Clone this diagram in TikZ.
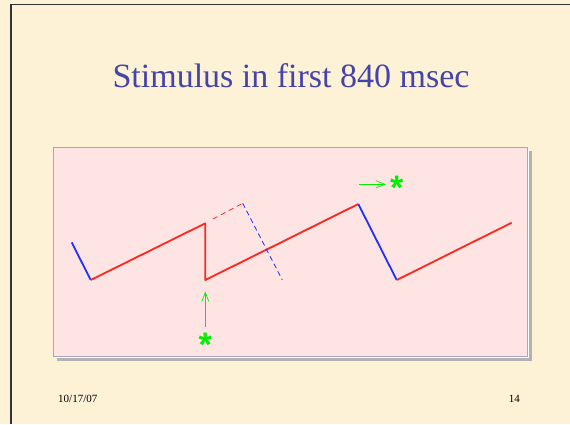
\documentclass[tikz,border=0pt]{standalone}
\usepackage{fontspec}
\setmainfont{Liberation Serif}
\newfontfamily\starfont{Liberation Sans}
\usetikzlibrary{arrows.meta}
\definecolor{slidebg}{RGB}{253,241,214}
\definecolor{boxfill}{RGB}{255,228,228}
\definecolor{boxline}{RGB}{170,165,200}
\definecolor{titleblue}{RGB}{68,68,170}
\definecolor{sred}{RGB}{255,40,30}
\definecolor{sblue}{RGB}{30,50,255}
\definecolor{sgreen}{RGB}{0,240,0}
\tikzset{
  redline/.style={draw=sred,line width=1.8pt,line join=round},
  blueline/.style={draw=sblue,line width=1.8pt,line join=round},
  reddash/.style={draw=sred,line width=0.8pt,dash pattern=on 5pt off 4pt},
  bluedash/.style={draw=sblue,line width=0.8pt,dash pattern=on 5pt off 3.5pt},
  greenarrow/.style={draw=sgreen,line width=0.7pt,-{Straight Barb[length=9pt,width=7pt]}},
  starnode/.style={text=sgreen,font=\starfont\bfseries\fontsize{34}{34}\selectfont,inner sep=0pt},
  footer/.style={font=\fontsize{11}{12}\selectfont,inner sep=0pt}
}
\begin{document}
\begin{tikzpicture}[x=1pt,y=-1pt]
\useasboundingbox (0,0) rectangle (570,424);
\fill[slidebg] (0,0) rectangle (570,424);
\draw[black!80,line width=1.2pt] (11,424) -- (11,4.5) -- (570,4.5);
% title
\node[text=titleblue,font=\fontsize{34}{40}\selectfont,anchor=base] (title) at (291,87) {Stimulus in first 840 msec};
% box with shadow
\fill[black!30] (57,151) rectangle (532,361);
\fill[white] (55,149) rectangle (529,358);
\filldraw[fill=boxfill,draw=boxline,line width=0.8pt] (53,147) rectangle (527,356);
% coordinates
\coordinate (b0) at (71.7,242.3);
\coordinate (p1) at (90.7,280);
\coordinate (p2) at (205.3,223.3);
\coordinate (p3) at (205.3,280);
\coordinate (p4) at (358.3,204);
\coordinate (p5) at (396.7,280);
\coordinate (p6) at (511.7,222.7);
\coordinate (d0) at (213,219);
\coordinate (d1) at (242.7,203.3);
\coordinate (d2) at (282.3,280);
\coordinate (a0) at (205.3,326.7);
\coordinate (a1) at (205.3,291.5);
\coordinate (r0) at (359.3,184.3);
\coordinate (r1) at (386,184.3);
% traces
\draw[blueline] (b0) -- (p1);
\draw[redline] (p1) -- (p2) -- (p3) -- (p4);
\draw[blueline] (p4) -- (p5);
\draw[redline] (p5) -- (p6);
\draw[reddash] (d0) -- (d1);
\draw[bluedash] (d1) -- (d2);
% stimuli
\draw[greenarrow] (a0) -- (a1);
\draw[greenarrow] (r0) -- (r1);
\node[starnode] (s1) at (205.3,345) {*};
\node[starnode] (s2) at (396.7,187.5) {*};
% footer
\node[footer,anchor=base west] (date) at (58,402) {10/17/07};
\node[footer,anchor=base east] (page) at (520,402) {14};
\end{tikzpicture}
\end{document}
